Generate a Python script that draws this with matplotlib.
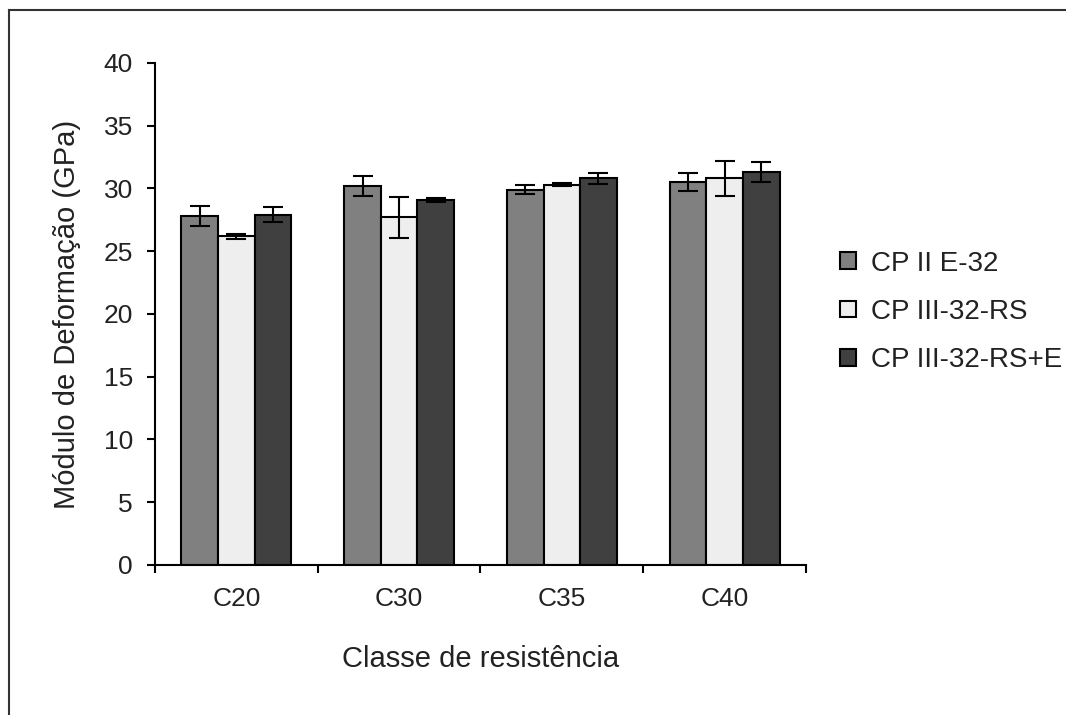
import matplotlib.pyplot as plt
import numpy as np
from matplotlib.lines import Line2D

plt.rcParams['font.family'] = ['Liberation Sans', 'DejaVu Sans']

# dados
classes = ['C20', 'C30', 'C35', 'C40']
series = ['CP II E-32', 'CP III-32-RS', 'CP III-32-RS+E']
cp2 = [27.8, 30.2, 29.9, 30.5]
cp3 = [26.2, 27.7, 30.3, 30.8]
cp3e = [27.9, 29.1, 30.8, 31.3]
err_cp2 = [0.8, 0.8, 0.35, 0.7]
err_cp3 = [0.2, 1.65, 0.1, 1.4]
err_cp3e = [0.6, 0.15, 0.45, 0.8]
cores = ['#808080', '#eeeeee', '#404040']

valores = [cp2, cp3, cp3e]
erros = [err_cp2, err_cp3, err_cp3e]

fig = plt.figure(figsize=(10.66, 7.15), dpi=100)
ax = fig.add_axes([0.1454, 0.2098, 0.6107, 0.7021])

x = np.arange(len(classes))
w = 0.225
for i in range(3):
    ax.bar(x + (i - 1) * w, valores[i], w, color=cores[i], edgecolor='black',
           linewidth=1.5, label=series[i], zorder=2)
    ax.errorbar(x + (i - 1) * w, valores[i], yerr=erros[i], fmt='none',
                ecolor='black', elinewidth=1.5, capsize=7, capthick=1.5, zorder=3)

ax.set_xlim(-0.5, 3.5)
ax.set_ylim(0, 40)
ax.set_yticks(np.arange(0, 41, 5))
ax.set_xticks(np.arange(-0.5, 3.6, 1))
ax.set_xticklabels([])
ax.set_xticks(x, minor=True)
ax.set_xticklabels(classes, minor=True)
ax.tick_params(axis='x', which='minor', length=0, pad=16, labelsize=19, labelcolor='#222222')
ax.tick_params(axis='x', which='major', length=6, width=1.5, direction='out')
ax.tick_params(axis='y', length=6, width=1.5, pad=10, labelsize=19, labelcolor='#222222')

for s in ['top', 'right']:
    ax.spines[s].set_visible(False)
for s in ['left', 'bottom']:
    ax.spines[s].set_linewidth(1.5)

ax.set_ylabel('Módulo de Deformação (GPa)', fontsize=21, color='#222222', labelpad=16)
ax.set_xlabel('Classe de resistência', fontsize=21, color='#222222', labelpad=24)

leg = ax.legend(loc='center left', bbox_to_anchor=(0.765, 0.564), bbox_transform=fig.transFigure,
                frameon=False, fontsize=20, handlelength=0.55, handleheight=0.55,
                handletextpad=0.55, labelspacing=0.8)
for t in leg.get_texts():
    t.set_color('#222222')

# moldura da figura
fig.add_artist(Line2D([0.0085, 0.0085], [0, 0.986], transform=fig.transFigure, color='#333333', lw=1.5))
fig.add_artist(Line2D([0.0085, 1], [0.986, 0.986], transform=fig.transFigure, color='#333333', lw=1.5))

fig.savefig('out.png', dpi=100)
